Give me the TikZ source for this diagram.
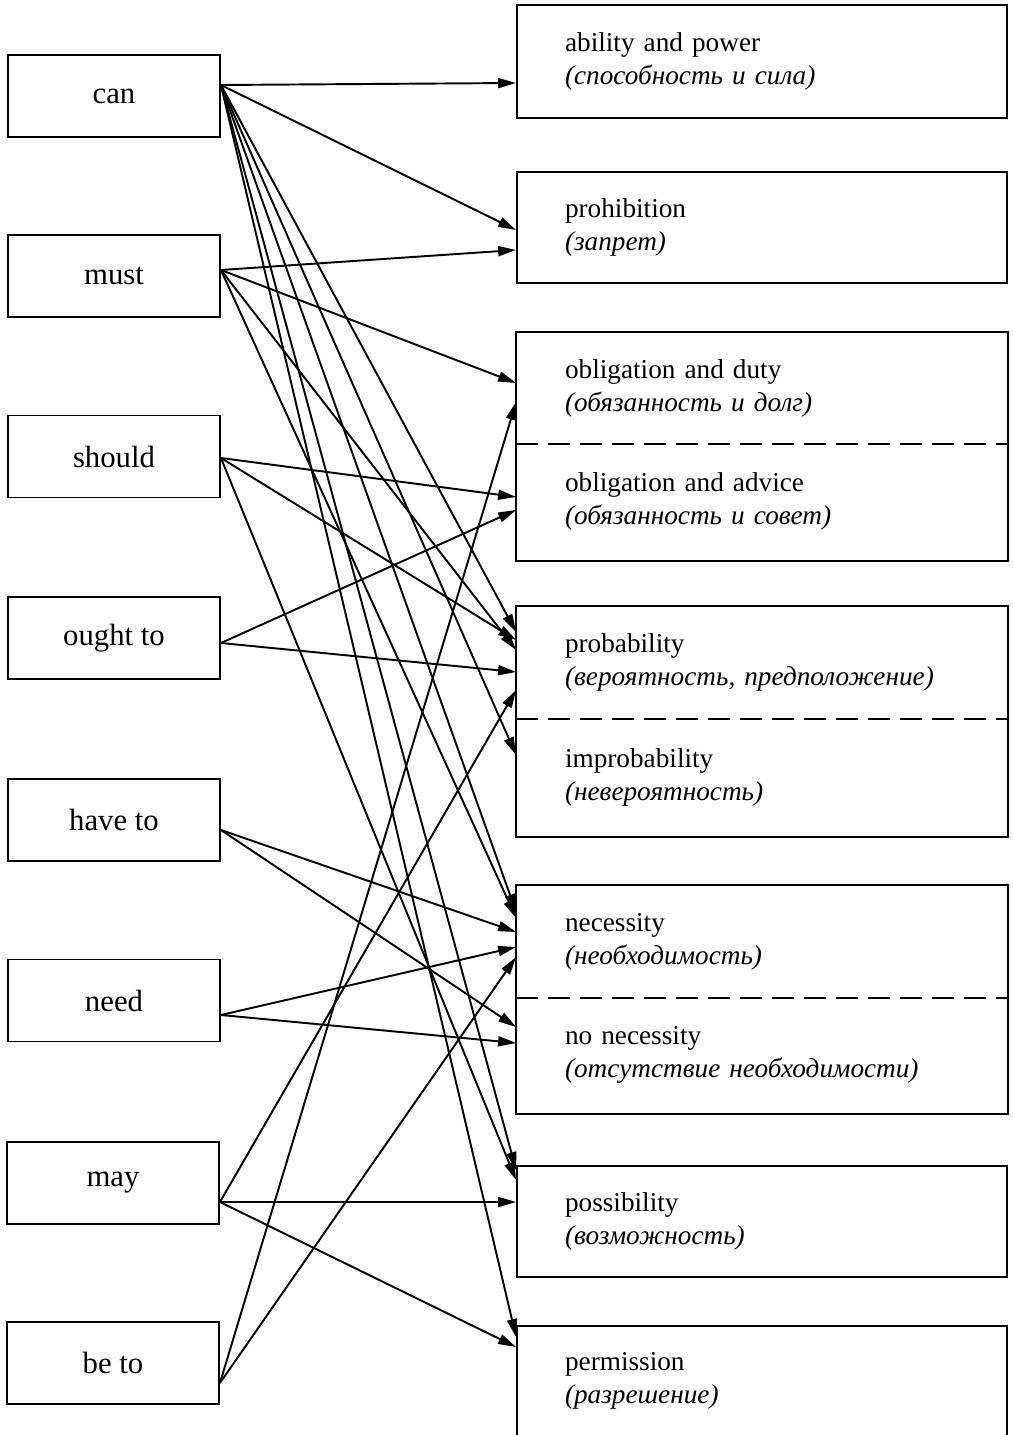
\documentclass[tikz,border=0pt]{standalone}
\usepackage{fontspec}
\setmainfont{Liberation Serif}
\usetikzlibrary{arrows.meta}

\tikzstyle{verb}=[draw, rectangle, line width=1.1pt, minimum width=4.24cm, minimum height=1.64cm, font=\fontsize{17.5}{20}\selectfont]
\tikzstyle{meaning}=[rectangle, line width=1.1pt, text width=7.88cm, inner xsep=0.96cm, inner ysep=0pt, align=left, font=\fontsize{15.5}{18.8}\selectfont]
\tikzstyle{arr}=[line width=1.1pt, -{Triangle[length=3.6mm,width=2mm]}]

\begin{document}
\begin{tikzpicture}[x=0.02cm, y=-0.02cm]
            \useasboundingbox (0,0) rectangle (1012,1435);

            % Modalni slovesa
            \node[verb] (can) at (114,96) {can};
            \node[verb] (must) at (114,276) {must};
            \node[verb] (should) at (114,456.5) {should};
            \node[verb] (ought) at (114,638) {ought to};
            \node[verb] (haveto) at (114,820) {have to};
            \node[verb] (need) at (114,1000.5) {need};
            \node[verb] (may) at (113,1183) {may};
            \node[verb] (beto) at (113,1363) {be to};

            % Vyznamy
            \node[meaning, draw, minimum height=2.26cm] (abil) at (762,61.5) {ability and power\\ \textit{(способность и сила)}};
            \node[meaning, draw, minimum height=2.22cm] (prohib) at (762,227.5) {prohibition\\ \textit{(запрет)}};
            \node[meaning, minimum height=2.2cm] (oblduty) at (762,388) {obligation and duty\\ \textit{(обязанность и долг)}};
            \node[meaning, minimum height=2.34cm] (obladv) at (762,501.5) {obligation and advice\\ \textit{(обязанность и совет)}};
            \node[meaning, minimum height=2.22cm] (prob) at (762,662.5) {probability\\ \textit{(вероятность, предположение)}};
            \node[meaning, minimum height=2.36cm] (improb) at (762,777) {improbability\\ \textit{(невероятность)}};
            \node[meaning, minimum height=2.22cm] (nec) at (762,941.5) {necessity\\ \textit{(необходимость)}};
            \node[meaning, minimum height=2.32cm] (nonec) at (762,1055) {no necessity\\ \textit{(отсутствие необходимости)}};
            \node[meaning, draw, minimum height=2.22cm] (poss) at (762,1221.5) {possibility\\ \textit{(возможность)}};
            \node[meaning, draw, minimum height=2.2cm] (perm) at (762,1381) {permission\\ \textit{(разрешение)}};

            % Dvojite ramecky
            \draw[line width=1.1pt] (oblduty.north west) rectangle (obladv.south east);
            \draw[line width=1.1pt] (prob.north west) rectangle (improb.south east);
            \draw[line width=1.1pt] (nec.north west) rectangle (nonec.south east);
            \draw[line width=1.1pt, dash pattern=on 4.4mm off 2mm] (oblduty.south west) -- (oblduty.south east);
            \draw[line width=1.1pt, dash pattern=on 4.4mm off 2mm] (prob.south west) -- (prob.south east);
            \draw[line width=1.1pt, dash pattern=on 4.4mm off 2mm] (nec.south west) -- (nec.south east);

            % Sipky
            \draw[arr] ([yshift=2.2mm]can.east) -- ([yshift=-4.3mm]abil.west);
            \draw[arr] ([yshift=2.2mm]can.east) -- ([yshift=-0.5mm]prohib.west);
            \draw[arr] ([yshift=2.2mm]can.east) -- ([yshift=6.1mm]prob.west);
            \draw[arr] ([yshift=2.2mm]can.east) -- ([yshift=4.4mm]improb.west);
            \draw[arr] ([yshift=2.2mm]can.east) -- ([yshift=5.9mm]nec.west);
            \draw[arr] ([yshift=2.2mm]can.east) -- ([yshift=10.3mm]poss.west);
            \draw[arr] ([yshift=2.2mm]can.east) -- ([yshift=8.8mm]perm.west);

            \draw[arr] ([yshift=1.2mm]must.east) -- ([yshift=-4.5mm]prohib.west);
            \draw[arr] ([yshift=1.2mm]must.east) -- ([yshift=1mm]oblduty.west);
            \draw[arr] ([yshift=1.2mm]must.east) -- ([yshift=2.5mm]prob.west);
            \draw[arr] ([yshift=1.2mm]must.east) -- ([yshift=4.7mm]nec.west);

            \draw[arr] ([yshift=-0.3mm]should.east) -- ([yshift=0.9mm]obladv.west);
            \draw[arr] ([yshift=-0.3mm]should.east) -- ([yshift=4.5mm]prob.west);
            \draw[arr] ([yshift=-0.3mm]should.east) -- ([yshift=8.3mm]poss.west);

            \draw[arr] ([yshift=-1mm]ought.east) -- ([yshift=-1.7mm]obladv.west);
            \draw[arr] ([yshift=-1mm]ought.east) -- ([yshift=-1.9mm]prob.west);

            \draw[arr] ([yshift=-2mm]haveto.east) -- ([yshift=1.9mm]nec.west);
            \draw[arr] ([yshift=-2mm]haveto.east) -- ([yshift=5.6mm]nonec.west);

            \draw[arr] ([yshift=-2.9mm]need.east) -- ([yshift=-1.1mm]nec.west);
            \draw[arr] ([yshift=-2.9mm]need.east) -- ([yshift=2.4mm]nonec.west);

            \draw[arr] ([yshift=-3.8mm]may.east) -- ([yshift=-5.5mm]prob.west);
            \draw[arr] ([yshift=-3.8mm]may.east) -- ([yshift=3.9mm]poss.west);
            \draw[arr] ([yshift=-3.8mm]may.east) -- ([yshift=6.8mm]perm.west);

            \draw[arr] ([yshift=-4mm]beto.east) -- ([yshift=-2.8mm]oblduty.west);
            \draw[arr] ([yshift=-4mm]beto.east) -- ([yshift=-3.1mm]nec.west);
        \end{tikzpicture}
\end{document}
